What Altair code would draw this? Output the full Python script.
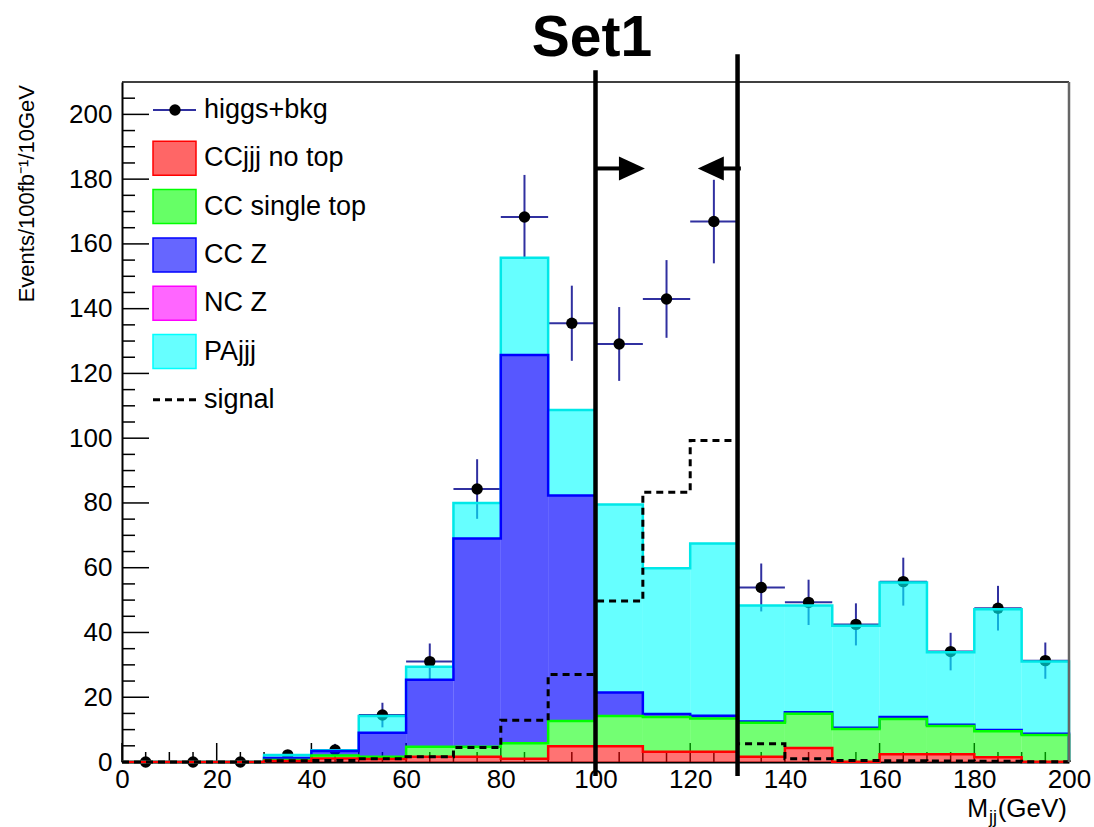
import altair as alt
import pandas as pd

# ---------------- data ----------------
bin_lo = [0, 10, 20, 30, 40, 50, 60, 70, 80, 90, 100, 110, 120, 130, 140, 150, 160, 170, 180, 190]
BW = 10
# cumulative stack tops (THStack): red <= green <= blue <= (NC Z) <= cyan
cum_ccjjj_notop = [0, 0, 0, 0.3, 1.1, 0.9, 1.6, 1.6, 1.0, 4.9, 4.9, 3.2, 3.2, 1.6, 4.3, 0.1, 2.4, 2.4, 1.5, 0.1]
cum_single_top = [0, 0, 0, 0.6, 2.0, 1.6, 4.7, 4.7, 5.8, 12.7, 14.2, 13.9, 13.4, 12.1, 14.9, 10.2, 13.3, 11.1, 9.5, 8.3]
cum_cc_z = [0, 0, 0, 1.2, 3.4, 9.0, 25.4, 69.0, 125.7, 82.3, 21.5, 14.8, 14.3, 12.5, 15.4, 10.6, 13.9, 11.5, 9.9, 8.7]
cum_pajjj = [0, 0, 0, 2.2, 3.6, 14.2, 29.4, 80.0, 155.7, 108.7, 79.5, 59.8, 67.5, 48.3, 48.3, 42.1, 55.4, 33.9, 47.2, 31.0]
signal = [0, 0, 0, 0.4, 0.5, 1.0, 1.6, 4.5, 12.9, 27.0, 49.7, 83.3, 99.3, 5.6, 1.0, 0.5, 0.4, 0.3, 0.2, 0.1]
data_vals = [0, 0, 0, 2.2, 3.7, 14.5, 31.0, 84.3, 168.3, 135.5, 129.1, 143.0, 166.9, 53.9, 49.3, 42.5, 55.7, 34.1, 47.5, 31.3]
data_errs = [0, 0, 0, 1.5, 1.9, 3.8, 5.6, 9.2, 13.0, 11.6, 11.4, 12.0, 12.9, 7.4, 7.0, 6.5, 7.4, 5.8, 6.9, 5.6]

cut_lo, cut_hi = 100, 130
arrow_y = 183.3

x_ticks = list(range(0, 201, 20))
y_ticks = list(range(0, 201, 20))

legend_labels = ["higgs+bkg", "CCjjj no top", "CC single top", "CC Z", "NC Z", "PAjjj", "signal"]
legend_colors = ["#3030a0", "#ff0000", "#00ff00", "#0000ff", "#ff00ff", "#00ffff", "#000000"]

FONT = "Liberation Sans"
W, H = 947, 680
XS = alt.Scale(domain=[0, 200], nice=False, zero=False)
YS = alt.Scale(domain=[0, 210], nice=False, zero=False)
ONE = pd.DataFrame({"a": [0]})

# ---------------- helpers ----------------
def seg_df(lower, upper):
    return pd.DataFrame({"lo": bin_lo, "hi": [b + BW for b in bin_lo], "y0": lower, "y1": upper})

def step_df(vals):
    xs = [0, 0] + [b + BW for b in bin_lo] + [200]
    ys = [0] + list(vals) + [vals[-1], 0]
    return pd.DataFrame({"x": xs, "y": ys, "o": list(range(len(xs)))})

zeros = [0] * len(bin_lo)
segs = [
    (cum_cc_z, cum_pajjj, "#00ffff", 0.6),
    (cum_single_top, cum_cc_z, "#0000ff", 0.66),
    (cum_ccjjj_notop, cum_single_top, "#00ff00", 0.55),
    (zeros, cum_ccjjj_notop, "#ff0000", 0.55),
]

layers = []

# inward ticks (drawn first, under histograms)
x_major = pd.DataFrame({"v": list(range(0, 201, 20))})
x_minor = pd.DataFrame({"v": [v for v in range(0, 201, 5) if v % 20 != 0]})
y_major = pd.DataFrame({"v": list(range(0, 201, 20))})
y_minor = pd.DataFrame({"v": [v for v in range(0, 210, 5) if v % 20 != 0]})
layers.append(alt.Chart(x_major).mark_rule(color="black", strokeWidth=1.5).encode(
    x=alt.X("v:Q", scale=XS), y=alt.value(H), y2=alt.value(H - 19)))
layers.append(alt.Chart(x_minor).mark_rule(color="black", strokeWidth=1.5).encode(
    x=alt.X("v:Q", scale=XS), y=alt.value(H), y2=alt.value(H - 10)))
layers.append(alt.Chart(y_major).mark_rule(color="black", strokeWidth=1.5).encode(
    y=alt.Y("v:Q", scale=YS), x=alt.value(0), x2=alt.value(27)))
layers.append(alt.Chart(y_minor).mark_rule(color="black", strokeWidth=1.5).encode(
    y=alt.Y("v:Q", scale=YS), x=alt.value(0), x2=alt.value(13)))

# data points (under hatched histograms)
dd = pd.DataFrame({"xc": [b + BW / 2 for b in bin_lo], "lo": bin_lo, "hi": [b + BW for b in bin_lo],
                   "v": data_vals, "e": data_errs})
dd["v0"] = dd["v"] - dd["e"]
dd["v1"] = dd["v"] + dd["e"]
layers.append(alt.Chart(dd).mark_rule(color="#3030a0", strokeWidth=2).encode(
    x=alt.X("xc:Q", scale=XS), y=alt.Y("v0:Q", scale=YS), y2="v1:Q"))
layers.append(alt.Chart(dd).mark_rule(color="#3030a0", strokeWidth=2).encode(
    x=alt.X("lo:Q", scale=XS), x2="hi:Q", y=alt.Y("v:Q", scale=YS)))
layers.append(alt.Chart(dd).mark_circle(color="black", opacity=1, size=130).encode(
    x=alt.X("xc:Q", scale=XS), y=alt.Y("v:Q", scale=YS)))

# histogram fills
for lower, upper, col, op in segs:
    layers.append(alt.Chart(seg_df(lower, upper)).mark_rect(
        strokeWidth=0, color=col, opacity=op).encode(
        x=alt.X("lo:Q", scale=XS), x2="hi:Q",
        y=alt.Y("y0:Q", scale=YS), y2="y1:Q"))

# histogram outlines
for vals, col in [(cum_pajjj, "#00e8e8"), (cum_cc_z, "#0000ff"), (cum_single_top, "#00ff00"), (cum_ccjjj_notop, "#ff0000")]:
    layers.append(alt.Chart(step_df(vals)).mark_line(interpolate="step-after", color=col, strokeWidth=2.5).encode(
        x=alt.X("x:Q", scale=XS), y=alt.Y("y:Q", scale=YS), order="o:Q"))

# signal dashed
layers.append(alt.Chart(step_df(signal)).mark_line(interpolate="step-after", color="black", strokeWidth=3,
                                                   strokeDash=[7, 5]).encode(
    x=alt.X("x:Q", scale=XS), y=alt.Y("y:Q", scale=YS), order="o:Q"))

# frame (top / right)
layers.append(alt.Chart(ONE).mark_rule(color="black", strokeWidth=1.5).encode(
    x=alt.value(0), x2=alt.value(W), y=alt.value(0)))
layers.append(alt.Chart(ONE).mark_rule(color="#666666", strokeWidth=2.5).encode(
    x=alt.value(W), y=alt.value(0), y2=alt.value(H)))

# cut lines
cuts = pd.DataFrame({"x": [cut_lo, cut_hi], "y0": [-4.3, -4.3], "y1": [213.6, 218.6]})
layers.append(alt.Chart(cuts).mark_rule(color="black", strokeWidth=4.5).encode(
    x=alt.X("x:Q", scale=XS), y=alt.Y("y0:Q", scale=YS), y2="y1:Q"))
shafts = pd.DataFrame({"x0": [cut_lo, 126.5], "x1": [105.5, 130.7], "y": [arrow_y, arrow_y]})
layers.append(alt.Chart(shafts).mark_rule(color="black", strokeWidth=4).encode(
    x=alt.X("x0:Q", scale=XS), x2="x1:Q", y=alt.Y("y:Q", scale=YS)))
layers.append(alt.Chart(pd.DataFrame({"x": [107.7], "y": [arrow_y]})).mark_point(
    shape="M1,0L-1,-0.923L-1,0.923Z", filled=True, color="black", opacity=1, size=676).encode(
    x=alt.X("x:Q", scale=XS), y=alt.Y("y:Q", scale=YS)))
layers.append(alt.Chart(pd.DataFrame({"x": [124.35], "y": [arrow_y]})).mark_point(
    shape="M-1,0L1,-0.923L1,0.923Z", filled=True, color="black", opacity=1, size=676).encode(
    x=alt.X("x:Q", scale=XS), y=alt.Y("y:Q", scale=YS)))

# title
layers.append(alt.Chart(ONE).mark_text(
    font=FONT, fontSize=57, fontWeight="bold", baseline="alphabetic", align="center", text="Set1").encode(
    x=alt.value(470), y=alt.value(-26)))

# axis titles
layers.append(alt.Chart(ONE).mark_text(
    font=FONT, fontSize=22, angle=270, align="right", baseline="middle",
    text="Events/100fb\u207b\u00b9/10GeV").encode(x=alt.value(-95), y=alt.value(3)))
for t, xp, yp, fs in [("M", 866, 735, 25), ("jj", 875, 741, 18), ("(GeV)", 945, 735, 26)]:
    layers.append(alt.Chart(ONE).mark_text(font=FONT, fontSize=fs, align="right", baseline="alphabetic",
                                           text=t).encode(x=alt.value(xp), y=alt.value(yp)))

# legend
for i, (lab, col) in enumerate(zip(legend_labels, legend_colors)):
    yc = 28 + 48.3 * i
    if lab == "higgs+bkg":
        layers.append(alt.Chart(ONE).mark_rule(color=col, strokeWidth=2).encode(
            x=alt.value(31), x2=alt.value(74), y=alt.value(yc)))
        layers.append(alt.Chart(ONE).mark_circle(color="black", opacity=1, size=130).encode(
            x=alt.value(53), y=alt.value(yc)))
    elif lab == "signal":
        layers.append(alt.Chart(ONE).mark_rule(color=col, strokeWidth=3, strokeDash=[7, 5]).encode(
            x=alt.value(31), x2=alt.value(74), y=alt.value(yc)))
    else:
        layers.append(alt.Chart(ONE).mark_rect(fill=col, fillOpacity=0.6, stroke=col, strokeWidth=1.5).encode(
            x=alt.value(31), x2=alt.value(74), y=alt.value(yc - 17), y2=alt.value(yc + 17)))
    layers.append(alt.Chart(ONE).mark_text(font=FONT, fontSize=27, align="left", baseline="middle",
                                           text=lab).encode(x=alt.value(82), y=alt.value(yc)))

# axes (labels + domain only)
axes_layer = alt.Chart(pd.DataFrame({"x": [0], "y": [0]})).mark_point(opacity=0).encode(
    x=alt.X("x:Q", scale=XS, axis=alt.Axis(values=x_ticks, ticks=False, grid=False, title=None,
                                          labelFont=FONT, labelFontSize=26, labelColor="black",
                                          labelPadding=4, labelFlush=False, labelOverlap=False,
                                          domainColor="black", domainWidth=2)),
    y=alt.Y("y:Q", scale=YS, axis=alt.Axis(values=y_ticks, ticks=False, grid=False, title=None,
                                          labelFont=FONT, labelFontSize=26, labelColor="black",
                                          labelPadding=10, labelFlush=False, labelOverlap=False,
                                          domainColor="black", domainWidth=2)))

chart = alt.layer(axes_layer, *layers).properties(
    width=W, height=H,
    autosize=alt.AutoSizeParams(type="none"),
    padding={"left": 122, "top": 82, "right": 25, "bottom": 65},
    background="white",
).configure_view(stroke=None)

chart.save("out.html", embed_options={"renderer": "svg", "actions": False})
